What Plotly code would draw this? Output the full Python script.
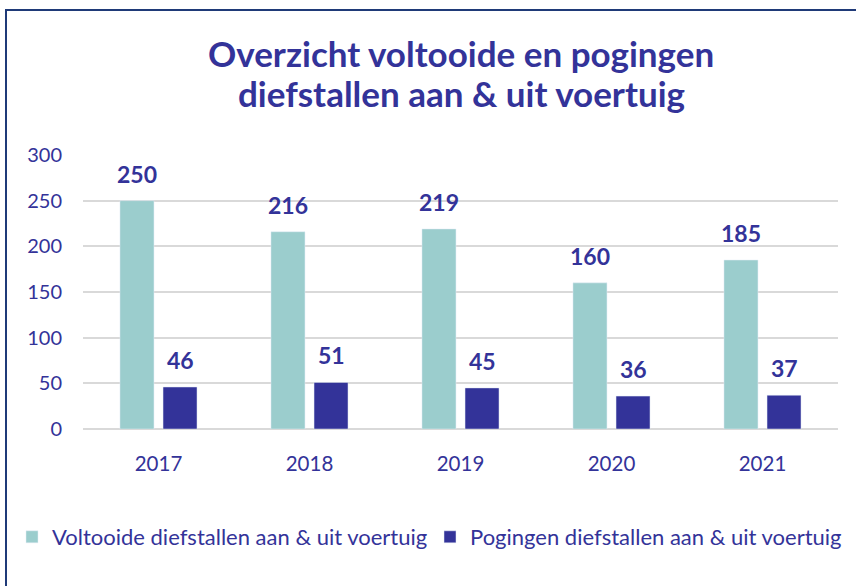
import plotly.graph_objects as go

years = ["2017", "2018", "2019", "2020", "2021"]
voltooid = [250, 216, 219, 160, 185]
pogingen = [46, 51, 45, 36, 37]
series_names = ["Voltooide diefstallen aan & uit voertuig", "Pogingen diefstallen aan & uit voertuig"]
title_lines = ["Overzicht voltooide en pogingen", "diefstallen aan & uit voertuig"]
y_ticks = [0, 50, 100, 150, 200, 250, 300]

FONT = "Lato"
TXT = "#333399"
colors = ["#9BCDCD", "#333399"]
legend_ids = ["legend", "legend2"]

fig = go.Figure()
for name, vals, col, lg in zip(series_names, [voltooid, pogingen], colors, legend_ids):
    fig.add_bar(x=years, y=vals, name=name, marker_color=col, legend=lg)

# data labels above bars (grouped offsets); category axes take serial index for annotations
for vals, shift in zip([voltooid, pogingen], [-21.5, 21.5]):
    for idx, v in enumerate(vals):
        fig.add_annotation(x=idx, y=v, text=str(v), showarrow=False, xshift=shift,
                           yshift=27, yanchor="middle",
                           font=dict(family=FONT, size=23, color=TXT, weight="bold"))

# title lines
for i, line in enumerate(title_lines):
    fig.add_annotation(xref="paper", yref="paper", x=(461 - 83) / 755,
                       y=(429 - (53 + 40 * i)) / 274, text=line, showarrow=False,
                       xanchor="center", yanchor="middle",
                       font=dict(family=FONT, size=35, color=TXT, weight="bold"))

legend_style = dict(orientation="h", xref="container", yref="container",
                    xanchor="left", y=1 - 537 / 586, yanchor="middle",
                    font=dict(family=FONT, size=22, color=TXT), itemwidth=30,
                    bgcolor="rgba(0,0,0,0)")

fig.update_layout(
    width=856, height=586,
    margin=dict(l=83, r=18, t=155, b=157, autoexpand=False),
    paper_bgcolor="white", plot_bgcolor="white",
    barmode="group", bargap=0.43, bargroupgap=0.21,
    font=dict(family=FONT, color=TXT),
    legend=dict(x=12 / 856, **legend_style),
    legend2=dict(x=430 / 856, **legend_style),
    showlegend=True,
)
fig.update_yaxes(range=[0, 300], tickvals=y_ticks, showgrid=True, gridcolor="#D9D9D9",
                 gridwidth=1.5, zeroline=True, zerolinecolor="#D9D9D9", zerolinewidth=1.5,
                 tickfont=dict(family=FONT, size=20, color=TXT), ticks="",
                 ticklabelstandoff=20, showline=False, automargin=False)
fig.update_xaxes(type="category", tickfont=dict(family=FONT, size=20.5, color=TXT),
                 showline=False, ticklabelstandoff=20, automargin=False)

fig.add_shape(type="rect", xref="paper", yref="paper",
              x0=-77/755, x1=1.1, y0=-0.9, y1=1 + 145/274,
              line=dict(color="#1F3A78", width=2), fillcolor="rgba(0,0,0,0)", layer="below")

fig.write_html("out.html", config={"displayModeBar": False},
               post_script="document.body.style.margin='0px';")
